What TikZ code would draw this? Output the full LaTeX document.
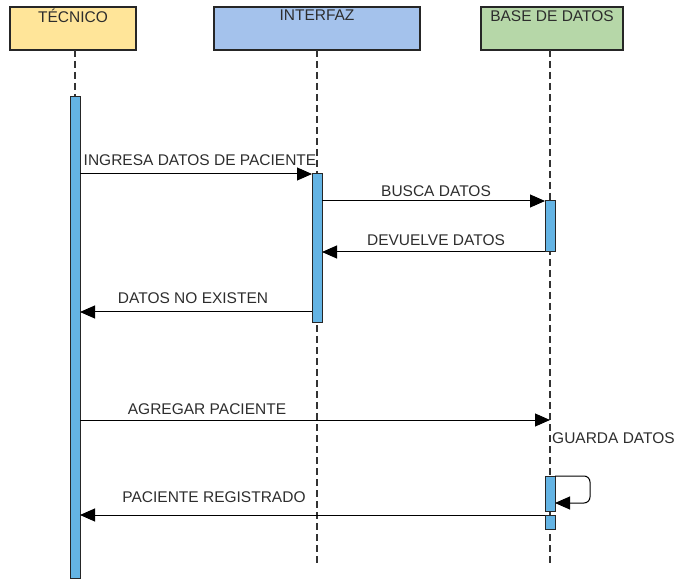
\documentclass[tikz,border=0pt]{standalone}
\usepackage{fontspec}
\setmainfont{Liberation Sans}
\usetikzlibrary{arrows.meta}
\definecolor{actorA}{RGB}{255,229,153}
\definecolor{actorB}{RGB}{164,194,236}
\definecolor{actorC}{RGB}{182,215,168}
\definecolor{actfill}{RGB}{100,180,228}
\definecolor{txt}{RGB}{45,45,45}
\tikzset{
  actor/.style={draw=black!85, line width=1.3pt},
  lifeline/.style={draw=black!80, line width=1.3pt, dash pattern=on 7pt off 4pt},
  actbar/.style={draw=black!85, fill=actfill, line width=1pt},
  msg/.style={draw=black, line width=1pt, -{Triangle[length=15pt,width=13pt]}},
  lbl/.style={text=txt, font=\fontsize{15.5}{17}\selectfont, inner sep=0pt},
}
\begin{document}
\begin{tikzpicture}[x=1pt,y=-1pt]
\useasboundingbox (0,0) rectangle (678,580);
% actors
\filldraw[actor, fill=actorA] (10,7) rectangle (136,50);
\filldraw[actor, fill=actorB] (214,7) rectangle (420,50);
\filldraw[actor, fill=actorC] (481,7) rectangle (623,50);
\node[lbl, anchor=north] (tA) at (73,9) {TÉCNICO};
\node[lbl, anchor=north] (tB) at (317,10) {INTERFAZ};
\node[lbl, anchor=north] (tC) at (552,10) {BASE DE DATOS};
% lifelines
\coordinate (lAtop) at (75,50);
\coordinate (lAbot) at (75,97);
\coordinate (lBtop) at (317,50);
\coordinate (lBbot) at (317,563);
\coordinate (lCtop) at (550,50);
\coordinate (lCbot) at (550,563);
\draw[lifeline] (lAtop) -- (lAbot);
\draw[lifeline] (lBtop) -- (lBbot);
\draw[lifeline] (lCtop) -- (lCbot);
% activations
\node[actbar, minimum width=10pt, minimum height=481pt, inner sep=0pt] (aA) at (75,337.5) {};
\node[actbar, minimum width=10pt, minimum height=149pt, inner sep=0pt] (aB) at (317,248.5) {};
\node[actbar, minimum width=10pt, minimum height=51pt, inner sep=0pt] (aC1) at (550,226.5) {};
\node[actbar, minimum width=10pt, minimum height=35pt, inner sep=0pt] (aC2) at (550,493.5) {};
\node[actbar, minimum width=10pt, minimum height=14pt, inner sep=0pt] (aC3) at (550,522) {};
% messages
\coordinate (m1s) at (80,174); \coordinate (m1e) at (312,174);
\draw[msg] (m1s) -- (m1e);
\node[lbl] (l1) at (200,160) {INGRESA DATOS DE PACIENTE};
\coordinate (m2s) at (322,201); \coordinate (m2e) at (545,201);
\draw[msg] (m2s) -- (m2e);
\node[lbl] (l2) at (436,191) {BUSCA DATOS};
\coordinate (m3s) at (545,252); \coordinate (m3e) at (322,252);
\draw[msg] (m3s) -- (m3e);
\node[lbl] (l3) at (436,240) {DEVUELVE DATOS};
\coordinate (m4s) at (312,312); \coordinate (m4e) at (80,312);
\draw[msg] (m4s) -- (m4e);
\node[lbl] (l4) at (193,298) {DATOS NO EXISTEN};
\coordinate (m5s) at (80,420); \coordinate (m5e) at (550,420);
\draw[msg] (m5s) -- (m5e);
\node[lbl] (l5) at (207,409) {AGREGAR PACIENTE};
\node[lbl, anchor=west] (l6) at (552,438) {GUARDA DATOS};
\coordinate (m6s) at (555,476); \coordinate (m6e) at (555,503);
\draw[msg, rounded corners=6pt] (m6s) -- (590,476) -- (590,503) -- (m6e);
\coordinate (m7s) at (545,515); \coordinate (m7e) at (80,515);
\draw[msg] (m7s) -- (m7e);
\node[lbl] (l7) at (214,497) {PACIENTE REGISTRADO};
\end{tikzpicture}
\end{document}
